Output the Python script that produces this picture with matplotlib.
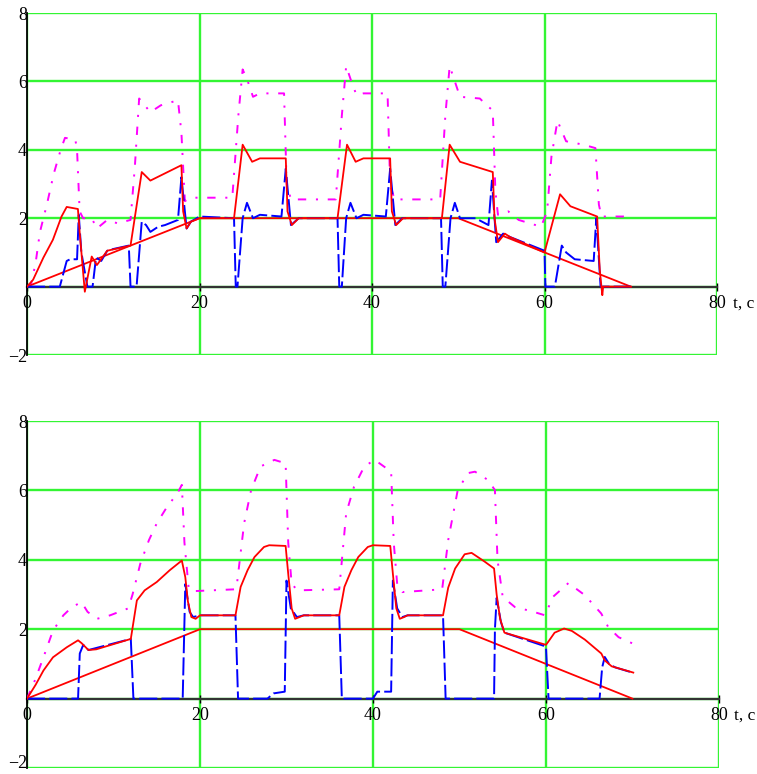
import matplotlib
matplotlib.use("Agg")
import matplotlib.pyplot as plt

plt.rcParams['font.family'] = ['Liberation Serif', 'DejaVu Serif']
plt.rcParams['lines.scale_dashes'] = False

# reference speed (trapezoid), same on both panels
ref_t = [0, 20, 50, 70]
ref_y = [0, 2, 2, 0]

# ---- top panel ----
top_red_t = [0, 0.7, 1.9, 3.0, 4.0, 4.6, 5.9, 6.1, 6.7, 7.5, 8.1, 9.3, 12.0, 13.3, 14.3, 17.9, 18.1, 18.5,
             19.0, 20, 24.0, 25.0, 26.1, 27.0, 30.0, 30.2, 30.7, 31.5, 36.0, 37.1, 38.1, 39.0, 42.1,
             42.3, 42.8, 43.6, 48.1, 49.0, 50.2, 54.0, 54.2, 54.6, 55.4, 56.0, 60.0, 61.8, 63.0, 66.1,
             66.4, 66.7, 66.8, 70.0]
top_red_y = [0, 0.2, 0.85, 1.37, 2.05, 2.33, 2.27, 1.6, -0.15, 0.88, 0.63, 1.05, 1.2, 3.35, 3.1, 3.55, 2.2,
             1.7, 1.9, 2.0, 2.0, 4.15, 3.65, 3.75, 3.75, 2.2, 1.8, 2.0, 2.0, 4.15, 3.65, 3.75, 3.75,
             2.2, 1.8, 2.0, 2.0, 4.15, 3.65, 3.35, 2.0, 1.3, 1.55, 1.45, 1.0, 2.7, 2.35, 2.05,
             0.5, -0.25, 0, 0]

top_blue_t = [0, 3.8, 4.6, 5.0, 5.8, 6.0, 6.3, 7.0, 7.6, 8.0, 8.6, 9.3, 10, 11.8, 12.0, 12.7, 13.3, 13.8,
              14.3, 15.2, 16, 17.5, 17.9, 18.5, 19.0, 20, 24.0, 24.2, 24.4, 25.0, 25.5, 26.2, 27,
              29.5, 30.0, 30.6, 31.5, 36, 36.2, 36.5, 37.0, 37.5, 38.2, 39.0, 41.6, 42.1, 42.7, 43.5,
              48.0, 48.2, 48.5, 49.1, 49.6, 50.2, 52, 53.5, 53.9, 54.4, 55.2, 56, 60, 60.1, 61.2,
              62.0, 62.5, 63.5, 65.7, 66.0, 66.5, 70]
top_blue_y = [0, 0, 0.75, 0.8, 0.8, 2.1, 1.0, 0, 0, 0.85, 0.75, 1.05, 1.1, 1.2, 0, 0, 1.9, 1.8,
              1.6, 1.75, 1.8, 1.95, 3.2, 1.7, 1.9, 2.05, 2.0, 0, 0, 2.0, 2.45, 2.0, 2.1,
              2.05, 3.45, 1.8, 2.0, 2.0, 0, 0, 2.0, 2.45, 2.0, 2.1, 2.05, 3.45, 1.8, 2.0,
              2.0, 0, 0, 2.0, 2.45, 2.0, 2.0, 1.8, 3.1, 1.3, 1.55, 1.45, 1.05, 0, 0,
              1.2, 1.0, 0.8, 0.75, 2.0, 0, 0]

top_mag_t = [0, 0.5, 1.0, 1.5, 2.3, 3.1, 3.9, 4.4, 5.6, 5.8, 6.1, 6.5, 7.5, 8.1, 9.3, 10.5, 12.0, 12.5,
             13.0, 14.3, 15.5, 17.5, 17.9, 18.3, 19.0, 23.8, 24.5, 25.0, 25.6, 26.2, 27, 29.8, 30.1,
             30.6, 35.8, 36.5, 37.0, 37.6, 38.2, 39, 41.8, 42.1, 42.6, 47.9, 48.5, 49.0, 49.6, 50.2,
             52.5, 53.3, 54.0, 54.3, 54.6, 55.8, 57.0, 59.6, 60.3, 60.8, 61.5, 62.5, 64.5, 65.9,
             66.3, 66.6, 69.6]
top_mag_y = [0, 0.1, 0.7, 1.6, 2.4, 3.3, 4.0, 4.35, 4.3, 4.0, 2.2, 2.0, 2.0, 1.7, 1.95, 1.85, 1.95, 3.5,
             5.5, 5.1, 5.3, 5.45, 4.5, 2.5, 2.6, 2.6, 5.0, 6.35, 6.0, 5.55, 5.65, 5.65, 3.0,
             2.55, 2.55, 5.0, 6.45, 6.0, 5.6, 5.65, 5.65, 3.0, 2.55, 2.55, 5.0, 6.45, 6.0, 5.55,
             5.5, 5.3, 5.15, 2.8, 2.1, 2.2, 1.95, 1.75, 2.2, 3.8, 4.85, 4.25, 4.15, 4.05,
             2.4, 2.05, 2.05]

# ---- bottom panel ----
bot_red_t = [0, 1, 1.9, 3.0, 4.6, 5.9, 6.3, 7.1, 8, 12.0, 12.7, 13.6, 15, 16.5, 17.9, 18.3, 18.6, 19.0,
             19.5, 20, 24.1, 24.7, 25.5, 26.3, 27.4, 28, 29.9, 30.2, 30.6, 31.0, 31.5, 32, 36.1,
             36.7, 37.5, 38.3, 39.4, 40, 42.0, 42.3, 42.7, 43.1, 43.6, 44, 48.1, 48.7, 49.5, 50.6,
             51.4, 52.9, 54.0, 54.3, 54.7, 55.2, 60.0, 60.3, 61.0, 62.1, 63, 64.5, 66.4, 66.8,
             67.6, 70.1]
bot_red_y = [0, 0.4, 0.81, 1.19, 1.48, 1.68, 1.6, 1.4, 1.42, 1.72, 2.83, 3.12, 3.36, 3.7, 3.98, 3.5, 2.8, 2.35,
             2.3, 2.4, 2.4, 3.22, 3.7, 4.08, 4.37, 4.42, 4.4, 3.6, 2.6, 2.3, 2.35, 2.4, 2.4,
             3.22, 3.7, 4.08, 4.37, 4.42, 4.4, 3.6, 2.6, 2.3, 2.35, 2.4, 2.4, 3.2, 3.75, 4.16,
             4.2, 3.95, 3.75, 3.0, 2.3, 1.9, 1.55, 1.65, 1.9, 2.02, 1.95, 1.7, 1.3, 1.1,
             0.93, 0.75]

bot_blue_t = [0, 5.9, 6.1, 6.5, 7.1, 12.0, 12.3, 18.0, 18.3, 18.8, 19.2, 20, 24.1, 24.4, 27.8, 28.5,
              29.8, 30.0, 30.5, 31.2, 32, 36.1, 36.4, 40, 40.5, 42.1, 42.3, 42.8, 43.4, 44, 48.1,
              48.4, 54.0, 54.1, 54.3, 54.8, 55.2, 60.0, 60.3, 66.2, 66.5, 66.8, 67.3, 68, 70]
bot_blue_y = [0, 0, 1.3, 1.55, 1.4, 1.72, 0, 0, 3.3, 2.5, 2.35, 2.4, 2.4, 0, 0, 0.15,
              0.2, 3.4, 2.6, 2.35, 2.4, 2.4, 0, 0, 0.2, 0.2, 3.4, 2.6, 2.35, 2.4, 2.4,
              0, 0, 2.0, 2.9, 2.2, 1.9, 1.5, 0, 0, 0.9, 1.2, 1.0, 0.9, 0.75]

bot_mag_t = [0, 0.9, 1.9, 3.0, 4.2, 5.2, 6.3, 7.0, 8.1, 9.6, 11.7, 12.2, 13.1, 14.1, 15, 16.2, 17.4, 17.9,
             18.2, 18.7, 19.5, 24.1, 24.3, 25.1, 25.9, 27.0, 28.6, 29.9, 30.2, 30.6, 31.3, 36.1,
             36.9, 37.8, 39.0, 40.2, 42.1, 42.4, 42.8, 43.4, 48.0, 48.7, 49.8, 51.0, 51.8, 53.3,
             54.1, 54.4, 55.0, 56.4, 58.3, 59.9, 60.8, 62.6, 64.5, 66.4, 67.2, 68.4, 70.1]
bot_mag_y = [0, 0.52, 1.19, 1.96, 2.4, 2.64, 2.78, 2.5, 2.3, 2.4, 2.6, 3.0, 3.89, 4.57, 5.05, 5.53, 5.92, 6.16,
             4.5, 3.15, 3.1, 3.15, 3.36, 5.05, 6.0, 6.69, 6.88, 6.78, 4.5, 3.3, 3.12, 3.15,
             5.34, 6.1, 6.69, 6.88, 6.54, 4.5, 3.3, 3.07, 3.15, 4.57, 6.01, 6.5, 6.54, 6.3,
             6.01, 4.0, 2.93, 2.64, 2.52, 2.4, 2.93, 3.33, 2.98, 2.45, 2.06, 1.77, 1.58]

xticks = [0, 20, 40, 60, 80]
yticks = [-2, 0, 2, 4, 6, 8]
ylabels = ['\u22122', '', '2', '4', '6', '8']
xlabel = 't, \u0441'

GREEN = '#33f533'

fig = plt.figure(figsize=(7.57, 7.74), dpi=100)
ax1 = fig.add_axes([0.0357, 0.5413, 0.9115, 0.4419])
ax2 = fig.add_axes([0.0357, 0.00775, 0.9140, 0.4483])

panels = [
    (ax1, top_red_t, top_red_y, top_blue_t, top_blue_y, top_mag_t, top_mag_y),
    (ax2, bot_red_t, bot_red_y, bot_blue_t, bot_blue_y, bot_mag_t, bot_mag_y),
]

for ax, rt, ry, bt, by, mt, my in panels:
    ax.set_xlim(0, 80)
    ax.set_ylim(-2, 8)
    ax.set_xticks(xticks)
    ax.set_yticks(yticks)
    ax.set_yticklabels(ylabels)
    ax.grid(True, color=GREEN, lw=1.7)
    ax.set_axisbelow(True)
    for s in ['top', 'right']:
        ax.spines[s].set_visible(False)
    ax.spines['bottom'].set_position(('data', 0))
    ax.spines['bottom'].set_color('#333333')
    ax.spines['bottom'].set_linewidth(1.6)
    ax.spines['bottom'].set_zorder(1.5)
    ax.spines['left'].set_color('black')
    ax.spines['left'].set_linewidth(1.3)
    ax.tick_params(axis='x', direction='inout', length=6, width=1, pad=3, labelsize=13)
    ax.tick_params(axis='y', direction='in', length=0, pad=0, labelsize=13)

    ax.plot(mt, my, color='#ff00ff', lw=1.4, dashes=(6, 7, 1.5, 7), zorder=3)
    ax.plot(ref_t, ref_y, color='#ff0000', lw=1.3, zorder=3)
    ax.plot(bt, by, color='#0000ff', lw=1.4, dashes=(13, 3), zorder=4)
    ax.plot(rt, ry, color='#ff0000', lw=1.3, zorder=5)

    ax.text(81.8, -0.25, xlabel, fontsize=12.5, ha='left', va='top', clip_on=False)

# keep the lowest "-2" inside the picture
ax2.get_yticklabels()[0].set_va('baseline')

fig.savefig('out.png', dpi=100)
